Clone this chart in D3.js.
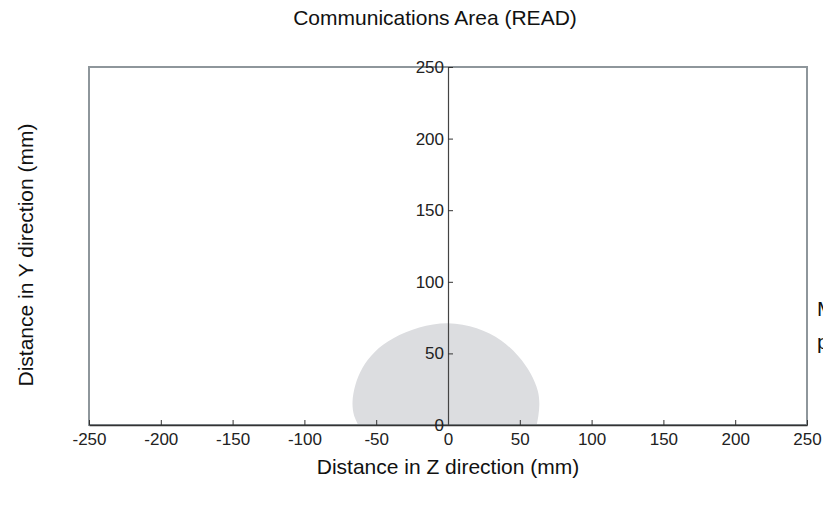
<!DOCTYPE html>
<html><head><meta charset="utf-8">
<script src="https://cdn.jsdelivr.net/npm/d3@7"></script>
<style>body{margin:0;background:#fff}svg{display:block;font-family:"Liberation Sans",Arial,sans-serif}</style>
</head><body><svg id="c" width="823" height="514"></svg>
<script>
const title = "Communications Area (READ)";
const xLabel = "Distance in Z direction (mm)";
const yLabel = "Distance in Y direction (mm)";
const xTicks = [-250,-200,-150,-100,-50,0,50,100,150,200,250];
const yTicks = [0,50,100,150,200,250];
// boundary of the communication area (z, y) in mm
const areaZ = [-62.5,-65.5,-66.5,-64.5,-59.5,-51,-38,-20,0,20,37,49,57.5,62.5,63.6,63,61.8];
const areaY = [0,7,16,28,40,51,60.5,68,71,67.5,59,48,36,24,15,7,0];
const sideText = ["Mounting","plate"];

const svg = d3.select("#c");
const x = d3.scaleLinear().domain([-250,250]).range([89,807]);
const y = d3.scaleLinear().domain([0,250]).range([425,67]);

// area shape
const pts = areaZ.map((z,i)=>[z,areaY[i]]);
svg.append("path")
  .attr("d", d3.line().x(d=>x(d[0])).y(d=>y(d[1])).curve(d3.curveCatmullRom)(pts) + "Z")
  .attr("fill","#dcdde0");

// frame
svg.append("rect").attr("x",x(-250)).attr("y",y(250)).attr("width",x(250)-x(-250)).attr("height",y(0)-y(250))
  .attr("fill","none").attr("stroke","#8e969b").attr("stroke-width",2);

const ff = "Liberation Sans, Arial, sans-serif";
// x axis
const gx = svg.append("g").attr("transform",`translate(0,${y(0)})`)
  .call(d3.axisTop(x).tickValues(xTicks).tickSize(5).tickSizeOuter(0).tickFormat(d=>String(d)));
gx.select(".domain").attr("stroke","#333").attr("stroke-width",1.5);
gx.selectAll(".tick line").attr("stroke","#333");
gx.selectAll(".tick text").attr("y",20).attr("dy","0").attr("fill","#222").style("font-size","17px").attr("font-family",ff);

// y axis
const gy = svg.append("g").attr("transform",`translate(${x(0)},0)`)
  .call(d3.axisRight(y).tickValues(yTicks).tickSize(5).tickSizeOuter(0).tickFormat(d=>String(d)));
gy.select(".domain").attr("stroke","#444").attr("stroke-width",1.2);
gy.selectAll(".tick line").attr("stroke","#333");
gy.selectAll(".tick text").attr("x",-4).attr("text-anchor","end").attr("fill","#222").style("font-size","17px").attr("font-family",ff);

svg.append("text").attr("x",435).attr("y",25).attr("text-anchor","middle").attr("fill","#111").style("font-size","21px").text(title);
svg.append("text").attr("x",448).attr("y",474).attr("text-anchor","middle").attr("fill","#111").style("font-size","21px").text(xLabel);
svg.append("text").attr("transform","translate(33,255) rotate(-90)").attr("text-anchor","middle").attr("fill","#111").style("font-size","21px").text(yLabel);
svg.selectAll(".side").data(sideText).enter().append("text").attr("class","side")
  .attr("x",817).attr("y",(d,i)=>316+i*33).attr("fill","#111").style("font-size","21px").text(d=>d);
</script></body></html>
